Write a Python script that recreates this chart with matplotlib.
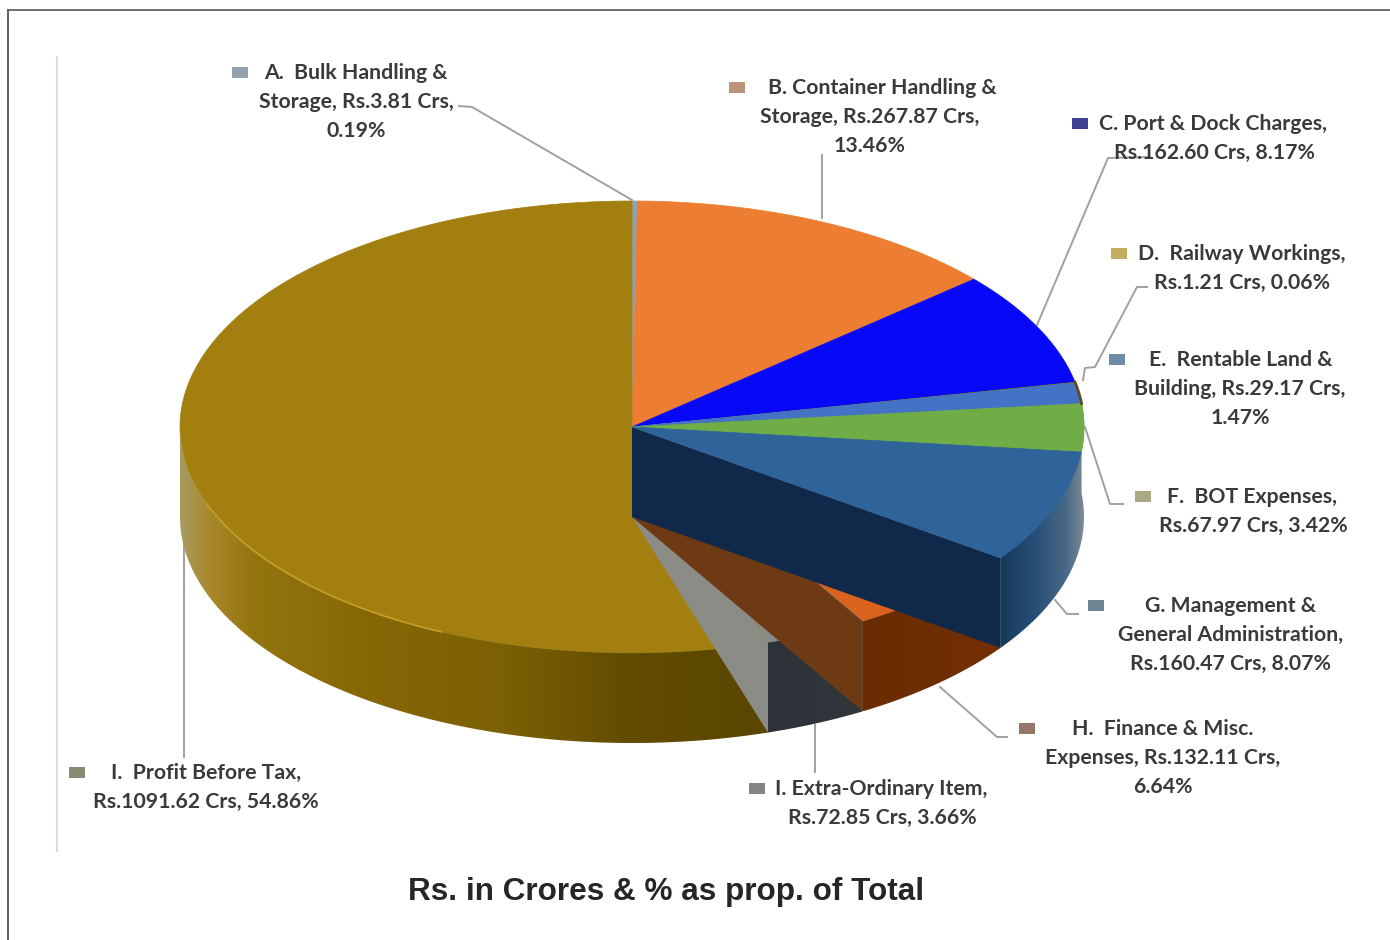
import numpy as np
from matplotlib import pyplot as plt
from matplotlib.colors import LinearSegmentedColormap
from matplotlib.patches import Polygon, Rectangle

# Rs. in crores, clockwise from 12 o'clock
values = [3.81, 267.87, 162.60, 1.21, 29.17, 67.97, 160.47, 132.11, 72.85, 1091.62]
top_colors = ["#8fa0b0", "#ed7d31", "#0808f8", "#6f7a20", "#4472c4",
              "#70ad47", "#2e6499", "#d9621c", "#8a8a8a", "#a37f10"]
labels = [
    ["A.  Bulk Handling &", "Storage, Rs.3.81 Crs,", "0.19%"],
    ["B. Container Handling &", "Storage, Rs.267.87 Crs,", "13.46%"],
    ["C. Port & Dock Charges,", "Rs.162.60 Crs, 8.17%"],
    ["D.  Railway Workings,", "Rs.1.21 Crs, 0.06%"],
    ["E.  Rentable Land &", "Building, Rs.29.17 Crs,", "1.47%"],
    ["F.  BOT Expenses,", "Rs.67.97 Crs, 3.42%"],
    ["G. Management &", "General Administration,", "Rs.160.47 Crs, 8.07%"],
    ["H.  Finance & Misc.", "Expenses, Rs.132.11 Crs,", "6.64%"],
    ["I. Extra-Ordinary Item,", "Rs.72.85 Crs, 3.66%"],
    ["I.  Profit Before Tax,", "Rs.1091.62 Crs, 54.86%"],
]
title = "Rs. in Crores & % as prop. of Total"

# where each label goes: line-1 x centre, line-2 x centre, first y, key x
label_pos = [(356, 356, 73, 240), (882, 870, 88, 737), (1213, 1214, 124, 1080),
             (1242, 1242, 254, 1119), (1241, 1240, 360, 1117), (1252, 1253, 497, 1143),
             (1231, 1231, 606, 1096), (1163, 1163, 729, 1027), (881, 882, 789, 757),
             (206, 206, 773, 77)]
key_colors = ["#8090a0", "#b08060", "#202080", "#b8a040", "#557799",
              "#9a9a70", "#557080", "#806050", "#707070", "#77775a"]
leaders = [
    [(459, 106), (472, 107), (632, 200)],
    [(822, 155), (822, 218)],
    [(1150, 157), (1108, 158), (1037, 325)],
    [(1147, 287), (1137, 287), (1095, 367), (1085, 368), (1083, 380)],
    [(1123, 504), (1110, 504), (1085, 427)],
    [(1078, 614), (1067, 614), (1055, 600)],
    [(1007, 737), (997, 737), (940, 687)],
    [(815, 725), (815, 772)],
    [(184, 540), (184, 757)],
]

cx, cy, rx, ry, depth = 632, 427, 452, 226, 90

fig = plt.figure(figsize=(13.9, 9.4), dpi=100)
ax = fig.add_axes([0, 0, 1, 1])
ax.set_xlim(0, 1390)
ax.set_ylim(940, 0)
ax.axis("off")


def arc(a0, a1, dy=0):
    a = np.radians(np.linspace(a0, a1, max(int(abs(a1 - a0) * 3), 2)))
    return np.column_stack([cx + rx * np.sin(a), cy + dy - ry * np.cos(a)])


def rim(a0, a1, stops):
    # outer wall of a slice, shaded left to right
    pts = np.vstack([arc(a0, a1), arc(a0, a1, depth)[::-1]])
    x0, x1 = pts[:, 0].min(), pts[:, 0].max()
    cmap = LinearSegmentedColormap.from_list("r", stops)
    im = ax.imshow(np.linspace(0, 1, 256)[None, :], cmap=cmap, aspect="auto",
                   extent=(x0, x1, pts[:, 1].max(), pts[:, 1].min()), zorder=3)
    im.set_clip_path(Polygon(pts, transform=ax.transData))
    ax.set_xlim(0, 1390)
    ax.set_ylim(940, 0)


def wall(a, color):
    # flat cut face running from the centre to the rim
    edge = arc(a, a + 0.01)[0]
    pts = [(cx, cy), edge, edge + [0, depth], (cx, cy + depth)]
    ax.add_patch(Polygon(pts, closed=True, fc=color, ec="none", zorder=3))


angles = np.concatenate([[0], np.cumsum(values) / np.sum(values) * 360])

for i, color in enumerate(top_colors):
    pts = np.vstack([[cx, cy], arc(angles[i], angles[i + 1])])
    ax.add_patch(Polygon(pts, closed=True, fc=color, ec=color, lw=0.5, zorder=2))

rim(angles[9], 270, [(0, "#a89a60"), (0.05, "#a8882a"), (0.12, "#94760f"), (0.3, "#866806"),
                     (0.55, "#7c6004"), (0.75, "#634d00"), (1, "#5a4600")])
rim(angles[8], angles[9], ["#2c3238", "#30363c"])
wall(angles[9], "#8c8c86")
rim(angles[7], angles[8], ["#6a2c02", "#742f04"])
wall(angles[8], "#6e3a14")
rim(angles[5], angles[7], [(0, "#16395e"), (0.45, "#2a5078"), (0.8, "#4a6a88"), (1, "#7c8a96")])
wall(angles[7], "#10294a")

# drawn again on top so the rim images do not cover the right edge of the top
for i in [4, 5, 6]:
    pts = np.vstack([[cx, cy], arc(angles[i], angles[i + 1])])
    ax.add_patch(Polygon(pts, closed=True, fc=top_colors[i], ec=top_colors[i], lw=0.5, zorder=4))

# thin dark lip at the far right and the light bevel on the big slice
lip = arc(angles[3], angles[5])
ax.plot(lip[:, 0], lip[:, 1], color="#5c4a20", lw=2, zorder=4)
bevel = arc(205, 250)
ax.plot(bevel[:, 0], bevel[:, 1], color="#c4a028", lw=1.2, zorder=4)

for line in leaders:
    xs, ys = zip(*line)
    ax.plot(xs, ys, color="#a0a0a0", lw=1.4, zorder=1)

for lines, pos, kc in zip(labels, label_pos, key_colors):
    for j, s in enumerate(lines):
        x = pos[0] if j == 0 else pos[1]
        ax.text(x, pos[2] + j * 29, s, ha="center", va="center", fontsize=15.3,
                family="Lato", fontweight="bold", color="#3a3a3a", zorder=5)
    ax.add_patch(Rectangle((pos[3] - 8, pos[2] - 6), 16, 11, fc=kc, ec="none", alpha=0.85, zorder=5))

# picture frame and the pale left edge of the pasted image
ax.plot([8, 8], [940, 10], color="#444444", lw=1.2)
ax.plot([8, 1390], [10, 10], color="#555555", lw=1.2)
ax.plot([57, 57], [57, 851], color="#d8d0f0", lw=1.2)

ax.text(666, 892, title, ha="center", va="center", fontsize=22.7, family="Liberation Sans",
        fontweight="bold", color="#262626")

fig.savefig("out.png", dpi=100)
